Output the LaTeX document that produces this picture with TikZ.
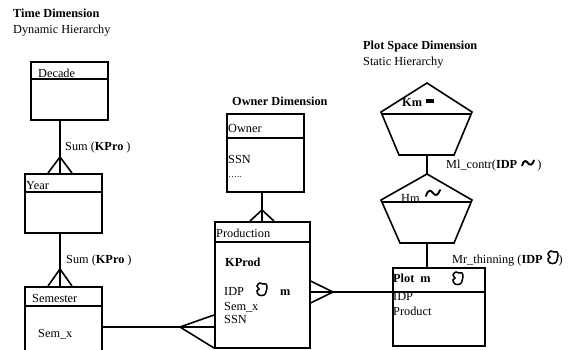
\documentclass[tikz,border=0pt]{standalone}
\usepackage{fontspec}
\setmainfont{Liberation Serif}
\begin{document}
\begin{tikzpicture}[x=1pt,y=-1pt,
  font=\fontsize{12.3}{14}\selectfont,
  box/.style={draw, line width=1.6pt, inner sep=0pt, anchor=north west},
  txt/.style={anchor=base west, inner sep=0pt},
  conn/.style={line width=1.6pt},
  blob/.pic={\draw[line width=1.5pt] plot[smooth cycle, tension=0.8] coordinates {(-2,-6) (1,-5) (4,-5) (5,-1) (4,3) (2,6) (-3,6) (-5,2) (-3,0) (-5,-3)};},
  tild/.pic={\draw[line width=1.9pt, line cap=round] (-7,3) .. controls (-5,-4) and (-2,-3) .. (0,0) .. controls (2,3) and (5,3) .. (7,-3);}
]
\path[use as bounding box] (0,0) rectangle (570,349);
\clip (0,0) rectangle (570,349);
\fill[white] (0,0) rectangle (570,349);

% titles
\node[txt] (tdim) at (13,17) {\bfseries Time Dimension};
\node[txt] (thier) at (13,33) {Dynamic Hierarchy};
\node[txt] (odim) at (232,105) {\bfseries Owner Dimension};
\node[txt] (pdim) at (363,49) {\bfseries Plot Space Dimension};
\node[txt] (phier) at (363,65) {Static Hierarchy};

% time hierarchy boxes
\node[box, minimum width=77pt, minimum height=58pt] (decade) at (30,61) {};
\draw[conn] ([yshift=-18pt]decade.north west) -- ([yshift=-18pt]decade.north east);
\node[txt] (decadet) at (38,77) {Decade};

\node[box, minimum width=77pt, minimum height=59pt] (year) at (24,173) {};
\draw[conn] ([yshift=-19pt]year.north west) -- ([yshift=-19pt]year.north east);
\node[txt] (yeart) at (26,189) {Year};

\node[box, minimum width=77pt, minimum height=80pt] (semester) at (24,286) {};
\draw[conn] ([yshift=-20pt]semester.north west) -- ([yshift=-20pt]semester.north east);
\node[txt] (semt) at (32,302) {Semester};
\node[txt] (semx) at (38,337) {Sem\_x};

\coordinate (tx) at (60,0);
\coordinate (cf1) at (60,157);
\coordinate (cf2) at (60,269);
\draw[conn] (decade.south -| tx) -- (year.north -| tx);
\draw[conn] (cf1) -- +(-12,16) (cf1) -- +(12,16);
\draw[conn] (year.south -| tx) -- (semester.north -| tx);
\draw[conn] (cf2) -- +(-12,17) (cf2) -- +(12,17);
\node[txt] (sum1) at (65,150) {Sum (\textbf{KPro} )};
\node[txt] (sum2) at (66,263) {Sum (\textbf{KPro} )};

% owner & production
\node[box, minimum width=77pt, minimum height=78pt] (owner) at (226,113) {};
\draw[conn] ([yshift=-25pt]owner.north west) -- ([yshift=-25pt]owner.north east);
\node[txt] (ownert) at (228,132) {Owner};
\node[txt] (ossn) at (228,163) {SSN};
\node[txt] (odots) at (228,177) {\fontsize{9}{10}\selectfont …..};

\node[box, minimum width=95pt, minimum height=126pt] (prod) at (214,221) {};
\draw[conn] ([yshift=-21pt]prod.north west) -- ([yshift=-21pt]prod.north east);
\node[txt] (prodt) at (216,237) {Production};
\node[txt] (kprod) at (225,266) {\bfseries KProd};
\node[txt] (pidp) at (224,295) {IDP};
\pic at (262,289) {blob};
\node[txt] (pm) at (280,295) {\bfseries m};
\node[txt] (psemx) at (224,310) {Sem\_x};
\node[txt] (pssn) at (224,323) {SSN};

\coordinate (ox) at (262,0);
\coordinate (cf3) at (262,210);
\draw[conn] (owner.south -| ox) -- (prod.north -| ox);
\draw[conn] (cf3) -- +(-12,11) (cf3) -- +(12,11);

\coordinate (cf4) at (180,327);
\draw[conn] (semester.east |- cf4) -- (prod.west |- cf4);
\draw[conn] (cf4) -- (prod.west |- 0,315) (cf4) -- (prod.west |- 0,348);

% plot space hierarchy
\coordinate (kmtop) at (427,83);
\coordinate (kmbot) at (427,155);
\draw[conn] (kmtop) -- (381,112) -- (399,155) -- (454,155) -- (472,112) -- cycle;
\draw[conn] (382,114) -- (471,114);
\node[txt] (kmt) at (402,106) {\bfseries Km};
\fill (426,99) rectangle (434,102.5);

\coordinate (hmtop) at (427,174);
\coordinate (hmbot) at (427,243);
\draw[conn] (hmtop) -- (381,200) -- (400,243) -- (454,243) -- (472,200) -- cycle;
\draw[conn] (382,202) -- (471,202);
\node[txt] (hmt) at (401,202) {Hm};
\pic at (433,193) {tild};

\draw[conn] (kmbot) -- (hmtop);
\node[txt] (mlc) at (446,168) {Ml\_contr(\textbf{IDP}\hspace{20pt})};
\pic[scale=0.85] at (528,163) {tild};

\node[box, minimum width=92pt, minimum height=78pt] (plot) at (392,267) {};
\draw[conn] ([yshift=-25pt]plot.north west) -- ([yshift=-25pt]plot.north east);
\node[txt] (plott) at (393,282) {\bfseries Plot\hspace{6pt}m};
\pic at (458,278) {blob};
\node[txt] (plidp) at (393,300) {IDP};
\node[txt] (plprod) at (393,315) {Product};

\draw[conn] (hmbot) -- (plot.north -| hmbot);
\node[txt] (mrt) at (452,263) {Mr\_thinning (\textbf{IDP}\hspace{16pt})};
\pic at (553,257) {blob};

\coordinate (cf5) at (333,292);
\draw[conn] (prod.east |- cf5) -- (plot.west |- cf5);
\draw[conn] (cf5) -- (prod.east |- 0,281) (cf5) -- (prod.east |- 0,303);
\end{tikzpicture}
\end{document}
